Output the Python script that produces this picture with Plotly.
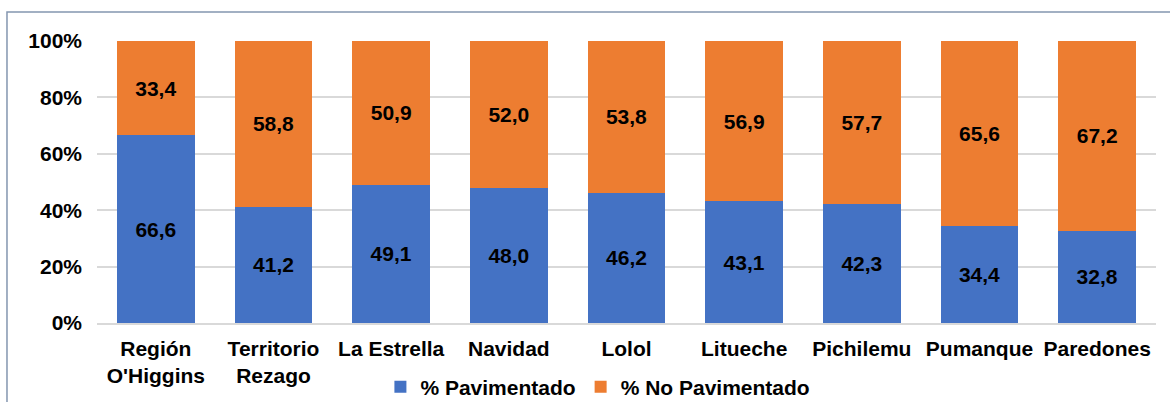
import plotly.graph_objects as go

categories = [
    "Región<br>O'Higgins",
    "Territorio<br>Rezago",
    "La Estrella",
    "Navidad",
    "Lolol",
    "Litueche",
    "Pichilemu",
    "Pumanque",
    "Paredones",
]
pavimentado = [66.6, 41.2, 49.1, 48.0, 46.2, 43.1, 42.3, 34.4, 32.8]
no_pavimentado = [33.4, 58.8, 50.9, 52.0, 53.8, 56.9, 57.7, 65.6, 67.2]
y_ticks = [0, 20, 40, 60, 80, 100]

FONT = "Liberation Sans, Arial, sans-serif"
BLUE = "#4472C4"
ORANGE = "#ED7D31"
BOLD = dict(family=FONT, size=21, color="black", weight="bold")


def fmt(v):
    return f"{v:.1f}".replace(".", ",")


fig = go.Figure()
for name, vals, color in [
    ("% Pavimentado", pavimentado, BLUE),
    ("% No Pavimentado", no_pavimentado, ORANGE),
]:
    fig.add_trace(
        go.Bar(
            x=categories,
            y=vals,
            name=name,
            marker=dict(color=color, line=dict(width=0)),
            text=[fmt(v) for v in vals],
            textposition="inside",
            insidetextanchor="middle",
            textangle=0,
            textfont=BOLD,
        )
    )

fig.update_layout(
    barmode="stack",
    bargap=0.34,
    width=1170,
    height=402,
    margin=dict(l=97, r=14, t=41, b=79, autoexpand=False),
    plot_bgcolor="white",
    paper_bgcolor="white",
    font=BOLD,
    legend=dict(
        orientation="h",
        traceorder="normal",
        x=0.473,
        xanchor="center",
        y=-0.227,
        yanchor="middle",
        font=BOLD,
        itemwidth=30,
    ),
)
fig.update_yaxes(
    range=[0, 100],
    tickvals=y_ticks,
    ticktext=[f"{t}%" for t in y_ticks],
    showgrid=True,
    gridcolor="#D9D9D9",
    gridwidth=1.5,
    zeroline=False,
    showline=False,
    ticks="",
    ticklabelstandoff=14,
    automargin=False,
    tickfont=BOLD,
)
fig.update_xaxes(
    showline=True,
    linecolor="#D9D9D9",
    linewidth=1.5,
    ticks="",
    ticklabelstandoff=6,
    automargin=False,
    tickfont=BOLD,
)
fig.add_shape(
    type="rect",
    xref="paper",
    yref="paper",
    x0=-0.085,
    x1=1.2,
    y0=-0.6,
    y1=1.103,
    line=dict(color="#8496B0", width=1.5),
    layer="above",
)

# drop the browser's default body margin so the figure sits at the page corner
fig.write_html(
    "out.html",
    config={"displayModeBar": False},
    post_script="document.body.style.margin='0';document.body.style.overflow='hidden';",
)
